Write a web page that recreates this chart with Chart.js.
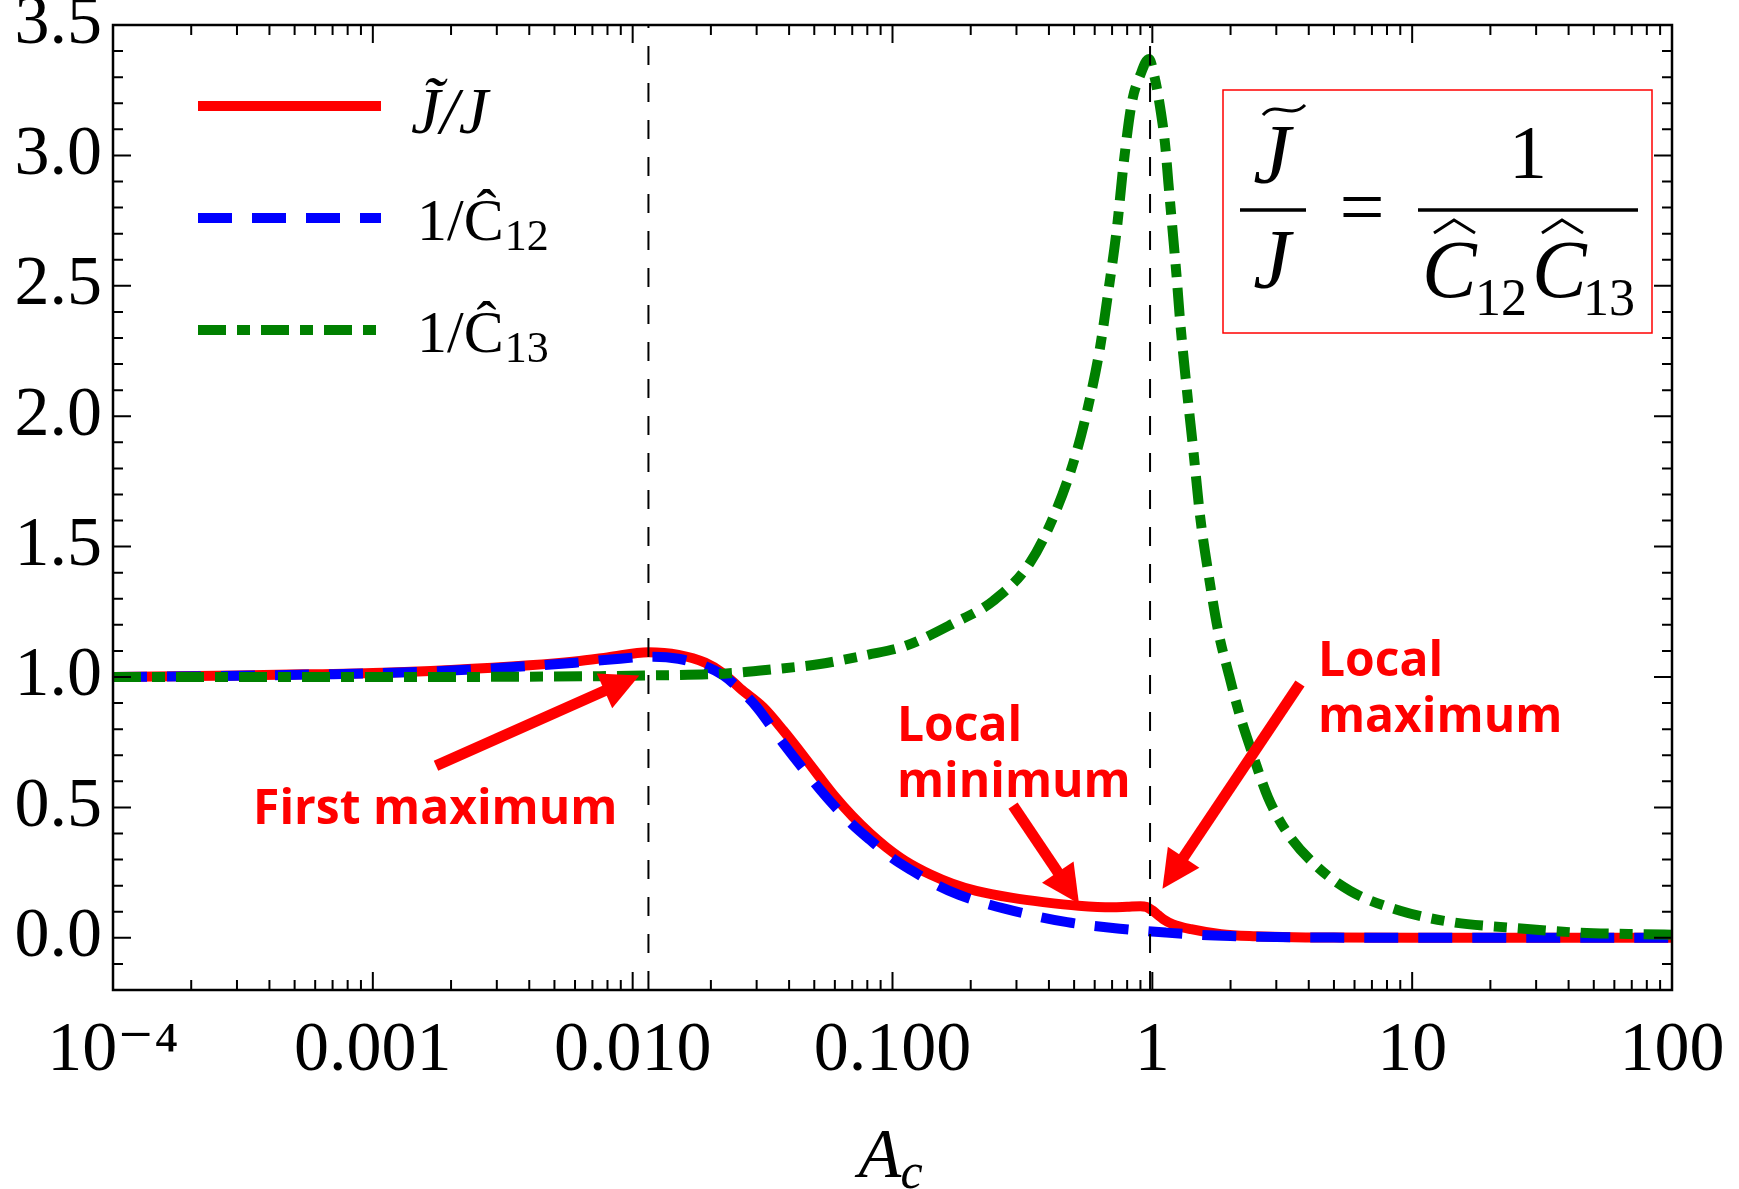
<!DOCTYPE html>
<html>
<head>
<meta charset="utf-8">
<script src="https://cdn.jsdelivr.net/npm/chart.js@4/dist/chart.umd.min.js"></script>
<style>
html, body { margin: 0; padding: 0; background: #fff; }
#wrap { width: 1739px; height: 1189px; }
</style>
</head>
<body>
<div id="wrap"><canvas id="myChart"></canvas></div>
<script>
// axis ticks
const xTicks = [1e-4, 1e-3, 1e-2, 1e-1, 1, 10, 100];
const xTickLabels = ["10\u207B\u2074", "0.001", "0.010", "0.100", "1", "10", "100"];
const yTicks = [0, 0.5, 1, 1.5, 2, 2.5, 3, 3.5];
const yTickLabels = ["0.0", "0.5", "1.0", "1.5", "2.0", "2.5", "3.0", "3.5"];
const yMin = -0.2, yMax = 3.5;

// J~/J  (red, solid)
const redX = [1e-4, 3e-4, 6e-4, 0.001, 0.002, 0.004, 0.006, 0.008, 0.0115, 0.015, 0.019, 0.0224, 0.026, 0.0318, 0.038, 0.044, 0.052, 0.06, 0.07, 0.082, 0.095, 0.112, 0.14, 0.17, 0.21, 0.29, 0.38, 0.52, 0.7, 0.8, 0.9, 0.95, 1.0, 1.05, 1.1, 1.2, 1.41, 1.84, 2.5, 3.5, 5, 10, 30, 100];
const redY = [1.000, 1.006, 1.011, 1.015, 1.027, 1.045, 1.060, 1.075, 1.095, 1.085, 1.055, 1.013, 0.955, 0.884, 0.795, 0.715, 0.621, 0.542, 0.467, 0.400, 0.346, 0.295, 0.243, 0.208, 0.180, 0.153, 0.137, 0.123, 0.117, 0.119, 0.121, 0.118, 0.105, 0.088, 0.072, 0.052, 0.033, 0.014, 0.006, 0.002, 0.001, 0, 0, 0];

// 1/C12  (blue, dashed)
const blueX = [1e-4, 3e-4, 6e-4, 0.001, 0.002, 0.004, 0.006, 0.008, 0.012, 0.015, 0.019, 0.0224, 0.026, 0.030, 0.038, 0.046, 0.058, 0.07, 0.082, 0.1, 0.12, 0.15, 0.18, 0.27, 0.47, 0.75, 1.13, 1.5, 2, 3, 5, 10, 100];
const blueY = [1.000, 1.005, 1.010, 1.014, 1.025, 1.042, 1.055, 1.066, 1.078, 1.070, 1.042, 1.005, 0.950, 0.885, 0.745, 0.640, 0.520, 0.435, 0.375, 0.305, 0.255, 0.200, 0.165, 0.112, 0.060, 0.035, 0.020, 0.012, 0.007, 0.003, 0.001, 0, 0];

// 1/C13  (green, dot-dash)
const greenX = [1e-4, 0.001, 0.005, 0.0115, 0.0224, 0.035, 0.0526, 0.08, 0.1125, 0.171, 0.245, 0.339, 0.429, 0.512, 0.576, 0.629, 0.678, 0.73, 0.775, 0.834, 0.9, 0.97, 1.02, 1.07, 1.12, 1.153, 1.206, 1.242, 1.279, 1.358, 1.439, 1.527, 1.644, 1.79, 1.968, 2.163, 2.455, 2.786, 3.264, 4.2, 5.77, 8.99, 14.5, 23.2, 43.8, 77.5, 100];
const greenY = [1.0, 1.0, 1.002, 1.006, 1.013, 1.03, 1.05, 1.085, 1.12, 1.205, 1.293, 1.44, 1.645, 1.866, 2.071, 2.263, 2.483, 2.718, 2.967, 3.203, 3.31, 3.37, 3.30, 3.188, 3.041, 2.894, 2.674, 2.527, 2.365, 2.101, 1.866, 1.616, 1.396, 1.179, 1.012, 0.859, 0.692, 0.539, 0.411, 0.283, 0.18, 0.104, 0.059, 0.04, 0.02, 0.014, 0.012];

// vertical marker lines
const vlineX = [0.0115, 0.98];

// annotations, in data units
const arrows = [
    { from: [0.00175, 0.66], to: [0.0106, 1.006] },
    { from: [0.291, 0.507], to: [0.522, 0.131] },
    { from: [3.70, 0.975], to: [1.094, 0.188] }
];
const notes = [
    { lines: ["First maximum"], at: [3.46e-4, 0.438] },
    { lines: ["Local", "minimum"], at: [0.104, 0.756] },
    { lines: ["Local", "maximum"], at: [4.34, 1.005] }
];

const serif = '"Liberation Serif", "DejaVu Serif", serif';
const sans = '"Open Sans", "Noto Sans", sans-serif';

const toPoints = (xs, ys) => xs.map((x, i) => ({ x: x, y: ys[i] }));

function drawArrow(ctx, x0, y0, x1, y1) {
    const dx = x1 - x0, dy = y1 - y0, len = Math.hypot(dx, dy);
    const ux = dx / len, uy = dy / len;
    const head = 38, half = 19;
    const bx = x1 - ux * head, by = y1 - uy * head;
    ctx.lineWidth = 11;
    ctx.lineCap = "butt";
    ctx.beginPath();
    ctx.moveTo(x0, y0);
    ctx.lineTo(bx + ux * 2, by + uy * 2);
    ctx.stroke();
    ctx.beginPath();
    ctx.moveTo(x1, y1);
    ctx.lineTo(bx - uy * half, by + ux * half);
    ctx.lineTo(bx + uy * half, by - ux * half);
    ctx.closePath();
    ctx.fill();
}

// frame with inward ticks on all four sides
const framePlugin = {
    id: "frame",
    afterDatasetsDraw(chart) {
        const { ctx, chartArea: a, scales: { x, y } } = chart;
        ctx.save();
        ctx.strokeStyle = "#000";
        ctx.lineWidth = 2;
        ctx.beginPath();
        for (let i = -2; i <= 35; i++) {
            const py = y.getPixelForValue(i / 10);
            const len = i % 5 === 0 ? 18 : 10;
            ctx.moveTo(a.left, py); ctx.lineTo(a.left + len, py);
            ctx.moveTo(a.right, py); ctx.lineTo(a.right - len, py);
        }
        for (let k = -4; k <= 2; k++) {
            for (let m = 1; m <= 9; m++) {
                const v = m * Math.pow(10, k);
                if (v > 100) break;
                const px = x.getPixelForValue(v);
                const len = m === 1 ? 18 : 10;
                ctx.moveTo(px, a.bottom); ctx.lineTo(px, a.bottom - len);
                ctx.moveTo(px, a.top); ctx.lineTo(px, a.top + len);
            }
        }
        ctx.stroke();
        ctx.lineWidth = 2.5;
        ctx.strokeRect(a.left, a.top, a.right - a.left, a.bottom - a.top);
        ctx.restore();
    }
};

const overlayPlugin = {
    id: "overlay",
    afterDraw(chart) {
        const { ctx, chartArea: a, scales: { x, y } } = chart;
        ctx.save();

        // legend, styled from the datasets
        const rows = ["red", "blue", "green"];
        rows.forEach((name, i) => {
            const ds = chart.data.datasets.find(d => d.label === name);
            const ly = a.top + 81 + i * 112;
            ctx.strokeStyle = ds.borderColor;
            ctx.lineWidth = ds.borderWidth;
            ctx.setLineDash(ds.borderDash || []);
            ctx.lineCap = "butt";
            ctx.beginPath();
            ctx.moveTo(a.left + 85, ly);
            ctx.lineTo(a.left + 268, ly);
            ctx.stroke();
        });
        ctx.setLineDash([]);
        ctx.fillStyle = "#000";
        ctx.textBaseline = "alphabetic";
        ctx.textAlign = "left";
        ctx.font = "italic 66px " + serif;
        ctx.fillText("J\u0303/J", a.left + 298, a.top + 108);
        ctx.font = "60px " + serif;
        ctx.fillText("1/\u0108", a.left + 304, a.top + 215);
        ctx.fillText("1/\u0108", a.left + 304, a.top + 327);
        const w1 = ctx.measureText("1/\u0108").width;
        ctx.font = "44px " + serif;
        ctx.fillText("12", a.left + 305 + w1, a.top + 225);
        ctx.fillText("13", a.left + 305 + w1, a.top + 337);

        // formula box
        const bx = a.right - 449, by = a.top + 65;
        ctx.strokeStyle = "#ff0000";
        ctx.lineWidth = 1.5;
        ctx.strokeRect(bx, by, 429, 243);
        ctx.strokeStyle = "#000";
        ctx.lineWidth = 3.5;
        ctx.beginPath();
        ctx.moveTo(bx + 17, by + 120); ctx.lineTo(bx + 83, by + 120);
        ctx.moveTo(bx + 195, by + 120); ctx.lineTo(bx + 415, by + 120);
        ctx.stroke();
        ctx.textAlign = "center";
        ctx.font = "italic 84px " + serif;
        ctx.fillText("J", bx + 49, by + 93);
        ctx.fillText("J", bx + 49, by + 198);
        ctx.lineWidth = 3;
        ctx.beginPath();
        ctx.moveTo(bx + 40, by + 25);
        ctx.bezierCurveTo(bx + 52, by + 10, bx + 68, by + 30, bx + 82, by + 15);
        ctx.stroke();
        ctx.font = "80px " + serif;
        ctx.fillText("=", bx + 139, by + 144);
        ctx.font = "76px " + serif;
        ctx.fillText("1", bx + 305, by + 88);
        ctx.textAlign = "left";
        ctx.font = "italic 82px " + serif;
        ctx.fillText("C", bx + 199, by + 207);
        ctx.fillText("C", bx + 309, by + 207);
        ctx.font = "52px " + serif;
        ctx.fillText("12", bx + 252, by + 225);
        ctx.fillText("13", bx + 360, by + 225);
        ctx.lineWidth = 3;
        ctx.beginPath();
        ctx.moveTo(bx + 211, by + 143); ctx.lineTo(bx + 231, by + 130); ctx.lineTo(bx + 252, by + 143);
        ctx.moveTo(bx + 319, by + 143); ctx.lineTo(bx + 339, by + 130); ctx.lineTo(bx + 360, by + 143);
        ctx.stroke();

        // x axis title A_c
        const cx = (a.left + a.right) / 2;
        ctx.font = "italic 70px " + serif;
        ctx.fillText("A", cx - 34, a.bottom + 187);
        ctx.font = "italic 50px " + serif;
        ctx.fillText("c", cx + 8, a.bottom + 198);

        // red annotations
        ctx.fillStyle = "#ff0000";
        ctx.strokeStyle = "#ff0000";
        arrows.forEach(ar => {
            drawArrow(ctx,
                x.getPixelForValue(ar.from[0]), y.getPixelForValue(ar.from[1]),
                x.getPixelForValue(ar.to[0]), y.getPixelForValue(ar.to[1]));
        });
        ctx.font = "bold 48px " + sans;
        ctx.textAlign = "left";
        notes.forEach(n => {
            const px = x.getPixelForValue(n.at[0]);
            const py = y.getPixelForValue(n.at[1]);
            n.lines.forEach((t, j) => ctx.fillText(t, px, py + j * 56));
        });
        ctx.restore();
    }
};

const datasets = [
    ...vlineX.map(v => ({
        label: "marker",
        data: [{ x: v, y: yMin }, { x: v, y: yMax }],
        borderColor: "#000",
        borderWidth: 2,
        borderDash: [19, 18],
        pointRadius: 0,
        tension: 0,
        order: 0
    })),
    {
        label: "green",
        data: toPoints(greenX, greenY),
        borderColor: "#008000",
        borderWidth: 10,
        borderDash: [28, 11, 13, 11],
        pointRadius: 0,
        cubicInterpolationMode: "monotone",
        order: 1
    },
    {
        label: "blue",
        data: toPoints(blueX, blueY),
        borderColor: "#0000ff",
        borderWidth: 10,
        borderDash: [34, 20],
        pointRadius: 0,
        cubicInterpolationMode: "monotone",
        order: 2
    },
    {
        label: "red",
        data: toPoints(redX, redY),
        borderColor: "#ff0000",
        borderWidth: 10,
        pointRadius: 0,
        cubicInterpolationMode: "monotone",
        order: 3
    }
];

const ctx = document.getElementById("myChart");
new Chart(ctx, {
    type: "line",
    data: { datasets: datasets },
    options: {
        responsive: true,
        maintainAspectRatio: false,
        animation: false,
        devicePixelRatio: 1,
        layout: { padding: { top: 25, right: 67, left: 0, bottom: 0 } },
        plugins: {
            legend: { display: false },
            tooltip: { enabled: false }
        },
        scales: {
            x: {
                type: "logarithmic",
                min: 1e-4,
                max: 100,
                grid: { display: false, drawTicks: false },
                border: { display: false },
                afterBuildTicks: (scale) => { scale.ticks = xTicks.map(v => ({ value: v })); },
                afterFit: (scale) => { scale.height = 199; scale.paddingLeft = 0; scale.paddingRight = 0; },
                ticks: {
                    autoSkip: false,
                    maxRotation: 0,
                    padding: 20,
                    color: "#000",
                    font: { family: serif, size: 70 },
                    callback: (value, index) => xTickLabels[index]
                }
            },
            y: {
                type: "linear",
                min: yMin,
                max: yMax,
                grid: { display: false, drawTicks: false },
                border: { display: false },
                afterBuildTicks: (scale) => { scale.ticks = yTicks.map(v => ({ value: v })); },
                afterFit: (scale) => { scale.width = 113; scale.paddingTop = 0; scale.paddingBottom = 0; },
                ticks: {
                    padding: 11,
                    color: "#000",
                    font: { family: serif, size: 70 },
                    callback: (value, index) => yTickLabels[index]
                }
            }
        }
    },
    plugins: [framePlugin, overlayPlugin]
});
</script>
</body>
</html>
